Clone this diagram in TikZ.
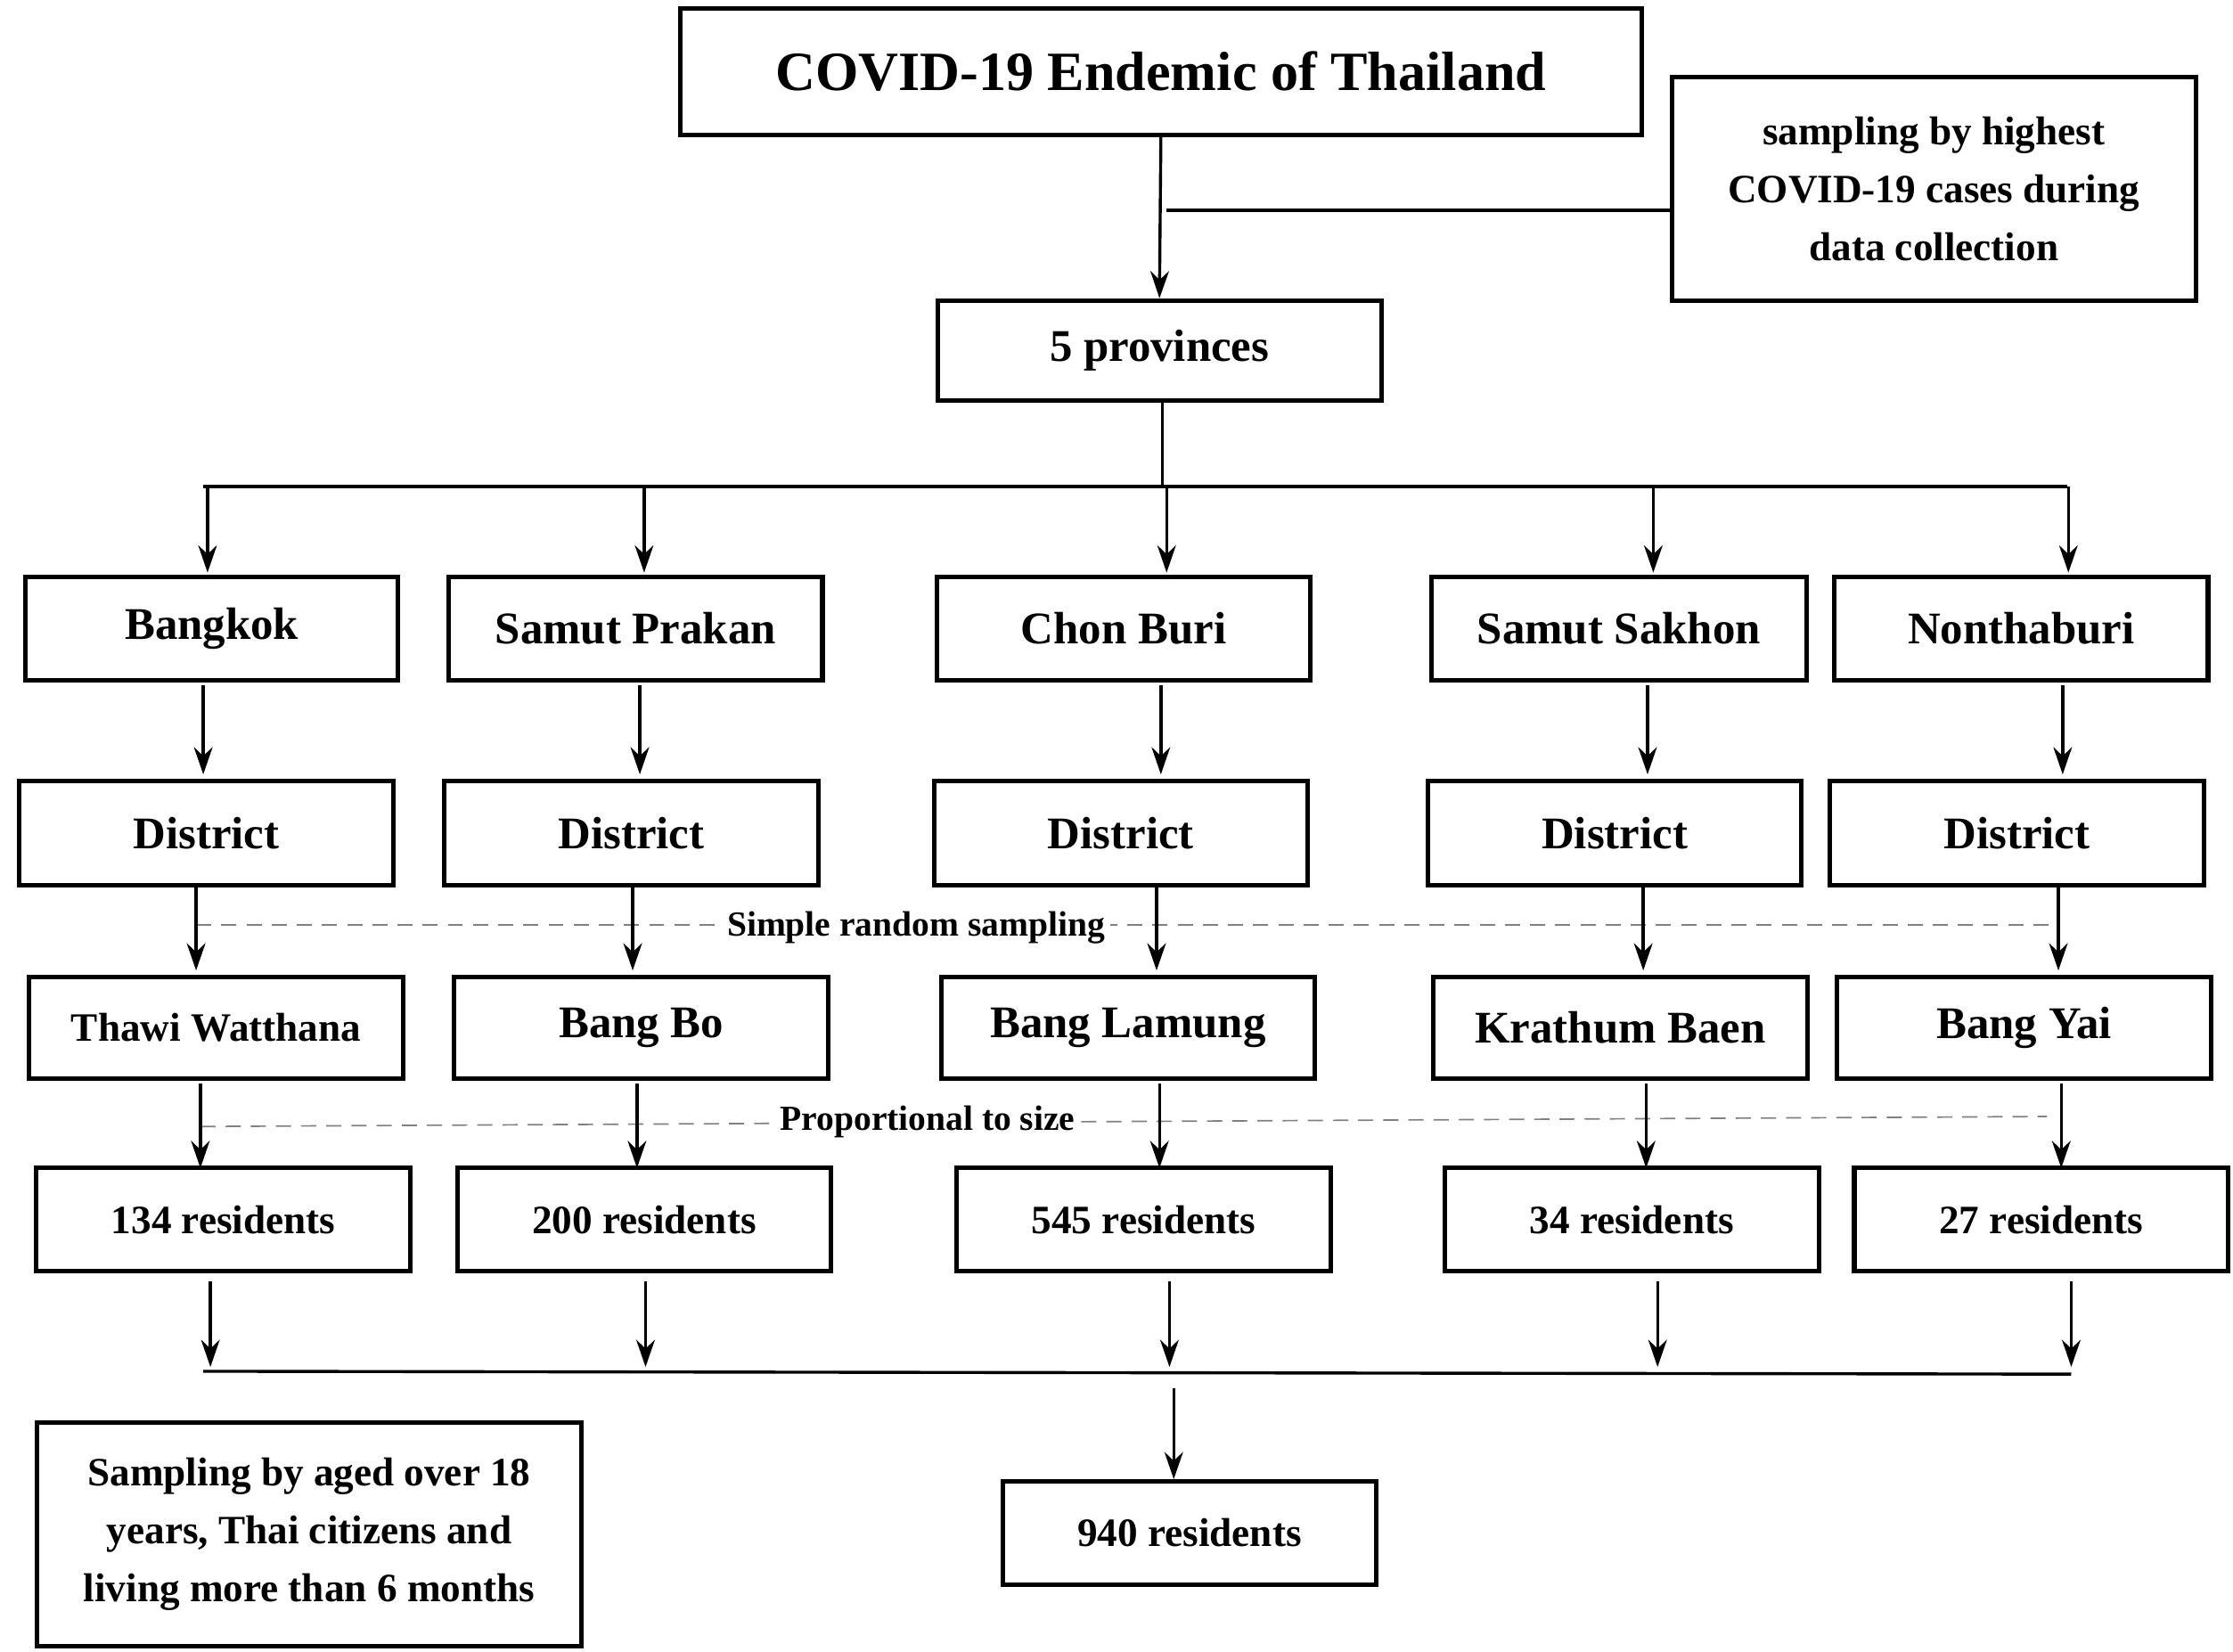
\documentclass[tikz,border=0pt]{standalone}
\usepackage{fontspec}
\setmainfont{Liberation Serif}
\usetikzlibrary{arrows.meta}
\begin{document}
\begin{tikzpicture}[x=0.01cm,y=-0.01cm,
 box/.style={draw,line width=0.9pt,inner sep=0pt,font=\bfseries\fontsize{9}{11}\selectfont,align=center},
 ln/.style={line width=0.6pt},
 ar/.style={ln,-{Stealth[length=1.9mm,width=1.3mm]}},
 dl/.style={densely dashed,line width=0.3pt,gray},
 lab/.style={font=\bfseries\fontsize{7}{8}\selectfont,fill=white,inner sep=1pt}]
\useasboundingbox (0,0) rectangle (1560,1154);
\node[box,minimum width=6.71cm,minimum height=0.88cm,font=\bfseries\fontsize{11}{14}\selectfont] (title) at (811,50) {COVID-19 Endemic of Thailand};
\node[box,minimum width=3.66cm,minimum height=1.56cm,font=\bfseries\fontsize{8}{11.5}\selectfont] (note) at (1351,132) {sampling by highest\\COVID-19 cases during\\data collection};
\node[box,minimum width=3.1cm,minimum height=0.7cm] (prov) at (810,245) {5 provinces};
% rows
\foreach \n/\x/\w/\t in {a/148/2.6/Bangkok,b/444/2.61/Samut Prakan,c/785/2.61/Chon Buri,d/1131/2.62/Samut Sakhon,e/1412/2.61/Nonthaburi}
  \node[box,minimum width=\w cm,minimum height=0.72cm] (r1\n) at (\x,439) {\t};
\foreach \n/\x in {a/144,b/441,c/783,d/1128,e/1409}
  \node[box,minimum width=2.61cm,minimum height=0.73cm] (r2\n) at (\x,582) {District};
\node[box,minimum width=2.61cm,minimum height=0.71cm,font=\bfseries\fontsize{8}{10}\selectfont] (r3a) at (151,718) {Thawi Watthana};
\foreach \n/\x/\t in {b/448/Bang Bo,c/788/Bang Lamung,d/1132/Krathum Baen,e/1414/Bang Yai}
  \node[box,minimum width=2.61cm,minimum height=0.71cm] (r3\n) at (\x,718) {\t};
\foreach \n/\x/\t in {a/156/134,b/450/200,c/799/545,d/1140/34,e/1426/27}
  \node[box,minimum width=2.61cm,minimum height=0.72cm,font=\bfseries\fontsize{8}{10}\selectfont] (r4\n) at (\x,852) {\t\ residents};
\node[box,minimum width=2.61cm,minimum height=0.72cm,font=\bfseries\fontsize{8}{10}\selectfont] (tot) at (831,1071) {940 residents};
\node[box,minimum width=3.8cm,minimum height=1.56cm,font=\bfseries\fontsize{8}{11.5}\selectfont] (crit) at (216,1072) {Sampling by aged over 18\\years, Thai citizens and\\living more than 6 months};
% top
\draw[ar] (title.south) -- (prov.north);
\coordinate (n1) at (815,147);
\draw[ln] (n1) -- (note.west |- n1);
\coordinate (s0) at (812,340);
\draw[ln] (prov.south -| s0) -- (s0);
\coordinate (hl) at (142,340); \coordinate (hr) at (1444,340);
\draw[ln] (hl) -- (hr);
\foreach \n/\x in {a/145,b/450,c/815,d/1155,e/1445}{
  \coordinate (t\n) at (\x,340);
  \draw[ar] (t\n) -- (\x,400);}
% between rows
\foreach \n/\x in {a/142,b/447,c/811,d/1151,e/1441}{
  \coordinate (u\n) at (\x,479); \coordinate (v\n) at (\x,541);
  \draw[ar] (u\n) -- (v\n);}
\coordinate (dl1) at (137,646); \coordinate (dr1) at (1438,646);
\draw[dl] (dl1) -- (dr1);
\node[lab] (srs) at (640,648) {Simple random sampling};
\foreach \n/\x in {a/137,b/442,c/808,d/1148,e/1438}{
  \coordinate (p\n) at (\x,620); \coordinate (q\n) at (\x,678);
  \draw[ar] (p\n) -- (q\n);}
\coordinate (dl2) at (140,787); \coordinate (dr2) at (1430,780);
\draw[dl] (dl2) -- (dr2);
\node[lab] (pts) at (648,784) {Proportional to size};
\foreach \n/\x in {a/140,b/445,c/810,d/1150,e/1440}{
  \coordinate (g\n) at (\x,757); \coordinate (h\n) at (\x,816);
  \draw[ar] (g\n) -- (h\n);}
\foreach \n/\x in {a/147,b/451,c/817,d/1158,e/1447}{
  \coordinate (k\n) at (\x,895); \coordinate (m\n) at (\x,955);
  \draw[ar] (k\n) -- (m\n);}
\coordinate (bl) at (142,958); \coordinate (br) at (1447,960);
\draw[ln] (bl) -- (br);
\coordinate (f1) at (820,970);
\draw[ar] (f1) -- (tot.north -| f1);
\end{tikzpicture}
\end{document}
